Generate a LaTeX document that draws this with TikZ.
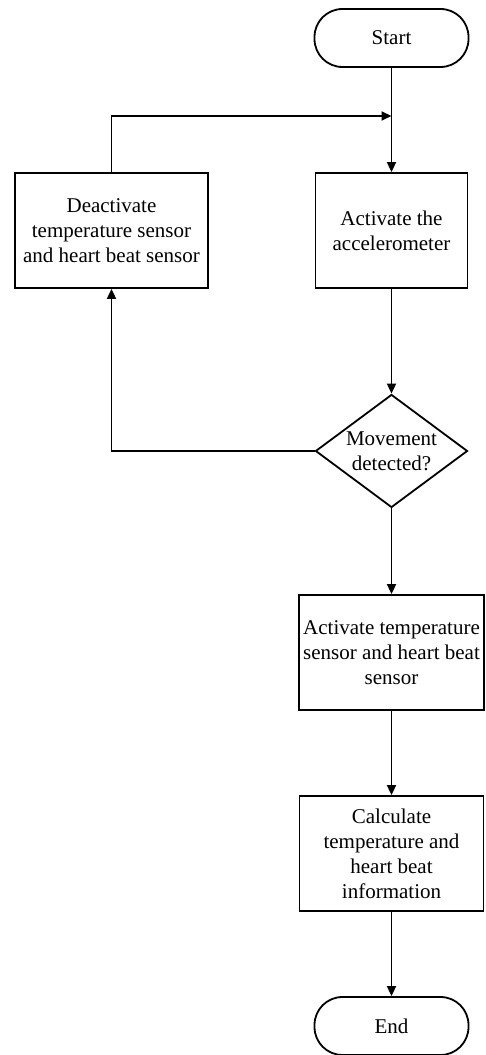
\documentclass[tikz,border=0pt]{standalone}
\usepackage{fontspec}
\setmainfont{Liberation Serif}
\usetikzlibrary{shapes.geometric,arrows.meta}
\begin{document}
\begin{tikzpicture}[x=1pt,y=1pt,line cap=butt,line join=miter,>={Triangle[length=10pt,width=9pt]}]
		\tikzset{every node/.style={font=\fontsize{21}{25}\selectfont,align=center,line width=1.8pt},
		terminal/.style={draw,rectangle,rounded corners=28pt,minimum width=154pt,minimum height=58pt},
		process/.style={draw,rectangle,minimum height=115pt,inner sep=0pt},
		decision/.style={draw,diamond,aspect=1.345,minimum width=152pt,minimum height=113pt,inner sep=-5pt},
		flow/.style={line width=1.8pt}}
		\useasboundingbox (0,0) rectangle (485,1055);
		\node[terminal] (start) at (391.5,1017) {Start};
		\node[process,minimum width=152pt] (accel) at (391.5,824.5) {Activate the\\accelerometer};
		\node[process,minimum width=193pt] (deact) at (111.5,824.5) {Deactivate\\temperature sensor\\and heart beat sensor};
		\node[decision] (move) at (391.5,604) {Movement\\detected?};
		\node[process,minimum width=185pt] (act) at (391.5,402.5) {Activate temperature\\sensor and heart beat\\sensor};
		\node[process,minimum width=184pt] (calc) at (391.5,201.5) {Calculate\\temperature and\\heart beat\\information};
		\node[terminal] (end) at (391.5,29) {End};
		\coordinate (merge) at (391.5,939);
		\draw[flow,->] (start) -- (accel);
		\draw[flow,->] (deact.north) |- (merge);
		\draw[flow,->] (accel) -- (move);
		\draw[flow,->] (move.west) -| (deact.south);
		\draw[flow,->] (move) -- (act);
		\draw[flow,->] (act) -- (calc);
		\draw[flow,->] (calc) -- (end);
\end{tikzpicture}
\end{document}
